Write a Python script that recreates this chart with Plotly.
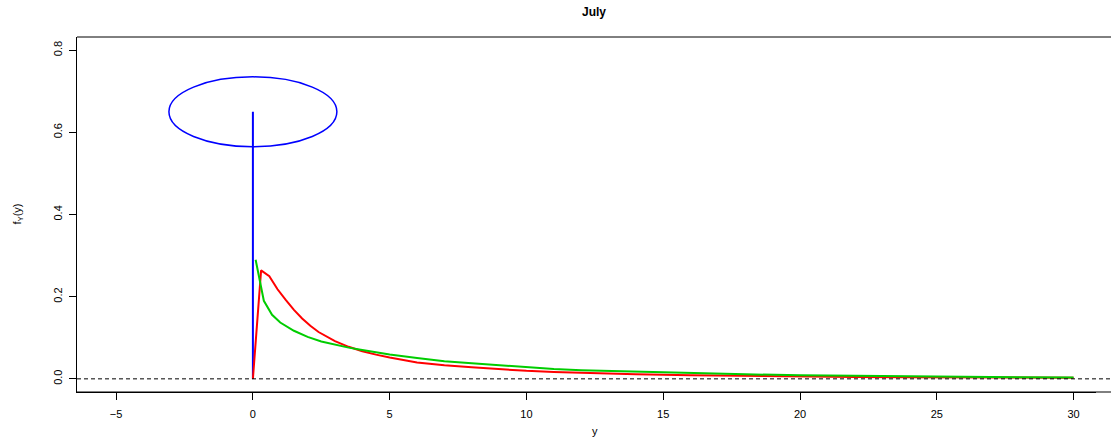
import plotly.graph_objects as go

# ---- data ----
red_x = [0, 0.3, 0.6, 0.9, 1.2, 1.5, 1.8, 2.1, 2.4, 2.7, 3.0, 3.5, 4.0, 4.5, 5.0,
         6.0, 7.0, 8.0, 9.0, 10, 11, 12, 13, 14, 16, 18, 20, 22, 24, 26, 28, 30]
red_y = [0, 0.264, 0.250, 0.218, 0.192, 0.168, 0.147, 0.129, 0.114, 0.102, 0.092,
         0.078, 0.067, 0.059, 0.052, 0.040, 0.033, 0.028, 0.023, 0.0195, 0.0168,
         0.0145, 0.0125, 0.0110, 0.0088, 0.0070, 0.0057, 0.0048, 0.0041, 0.0036,
         0.0032, 0.0029]

green_x = [0.1, 0.4, 0.7, 1.0, 1.5, 2.0, 2.5, 3.0, 3.5, 4.0, 4.5, 5.0, 6.0, 7.0,
           8.0, 9.0, 10, 11, 12, 13, 14, 15, 16, 18, 20, 22, 24, 26, 28, 30]
green_y = [0.290, 0.190, 0.156, 0.137, 0.117, 0.102, 0.091, 0.083, 0.076, 0.070,
           0.064, 0.059, 0.051, 0.043, 0.038, 0.033, 0.029, 0.024, 0.021, 0.0192,
           0.0172, 0.0154, 0.0137, 0.0110, 0.0088, 0.0071, 0.0057, 0.0046, 0.0037,
           0.0030]

spike_x = [0, 0]
spike_y = [0, 0.65]

ellipse_center = (0.0, 0.65)
ellipse_halfwidth = 3.07
ellipse_halfheight = 0.085

x_ticks = [-5, 0, 5, 10, 15, 20, 25, 30]
y_ticks = [0.0, 0.2, 0.4, 0.6, 0.8]
y_ticklabels = ["0.0", "0.2", "0.4", "0.6", "0.8"]

title_text = "<b>July</b>"
x_title = "y"
y_title = "f<sub>Y</sub>(y)"

FONT = "Liberation Sans, Arial, Helvetica, sans-serif"

fig = go.Figure()
fig.add_trace(go.Scatter(x=spike_x, y=spike_y, mode="lines",
                         line=dict(color="#0000FF", width=2), showlegend=False))
fig.add_trace(go.Scatter(x=red_x, y=red_y, mode="lines",
                         line=dict(color="#FF0000", width=2), showlegend=False))
fig.add_trace(go.Scatter(x=green_x, y=green_y, mode="lines",
                         line=dict(color="#00CD00", width=2), showlegend=False))

cx, cy = ellipse_center
fig.add_shape(type="circle", xref="x", yref="y",
              x0=cx - ellipse_halfwidth, x1=cx + ellipse_halfwidth,
              y0=cy - ellipse_halfheight, y1=cy + ellipse_halfheight,
              line=dict(color="#0000FF", width=1.5))
fig.add_shape(type="line", xref="paper", yref="y", x0=0, x1=1.02, y0=0, y1=0,
              line=dict(color="black", width=1, dash="4px,3px"), layer="above")
# top border of the box (the right side lies outside the picture)
fig.add_shape(type="line", xref="paper", yref="paper", x0=0, x1=1.02, y0=1, y1=1,
              line=dict(color="black", width=1), layer="above")
# bottom border continues past the plot edge as well
fig.add_shape(type="line", xref="paper", yref="paper", x0=0, x1=1.02, y0=0, y1=0,
              line=dict(color="black", width=1), layer="above")

fig.add_annotation(text=y_title, xref="paper", yref="paper", x=0, y=0.5,
                   xanchor="center", yanchor="middle", xshift=-60, textangle=-90,
                   showarrow=False, font=dict(family=FONT, size=11, color="black"))
fig.add_annotation(text=x_title, xref="x", yref="paper", x=12.5, y=0,
                   xanchor="center", yanchor="middle", yshift=-39,
                   showarrow=False, font=dict(family=FONT, size=11, color="black"))

fig.update_layout(
    width=1111, height=442,
    margin=dict(l=77, r=15, t=37, b=50),
    paper_bgcolor="white", plot_bgcolor="white",
    font=dict(family=FONT, size=11, color="black"),
    title=dict(text=title_text, x=594 / 1111, xref="container", xanchor="center",
               y=1 - 12 / 442, yref="container", yanchor="middle",
               font=dict(family=FONT, size=12, color="black")),
    xaxis=dict(range=[-6.43, 30.82], tickvals=x_ticks, ticks="outside", ticklen=7,
               tickcolor="black", showline=True, linecolor="black", linewidth=1,
               mirror=False, showgrid=False, zeroline=False,
               ticklabelstandoff=5),
    yaxis=dict(range=[-0.032, 0.832], tickvals=y_ticks, ticktext=y_ticklabels,
               ticks="outside", ticklen=7, tickcolor="black", tickangle=-90,
               showline=True, linecolor="black", linewidth=1, mirror=False,
               showgrid=False, zeroline=False, ticklabelstandoff=3),
)

fig.write_html("out.html")
